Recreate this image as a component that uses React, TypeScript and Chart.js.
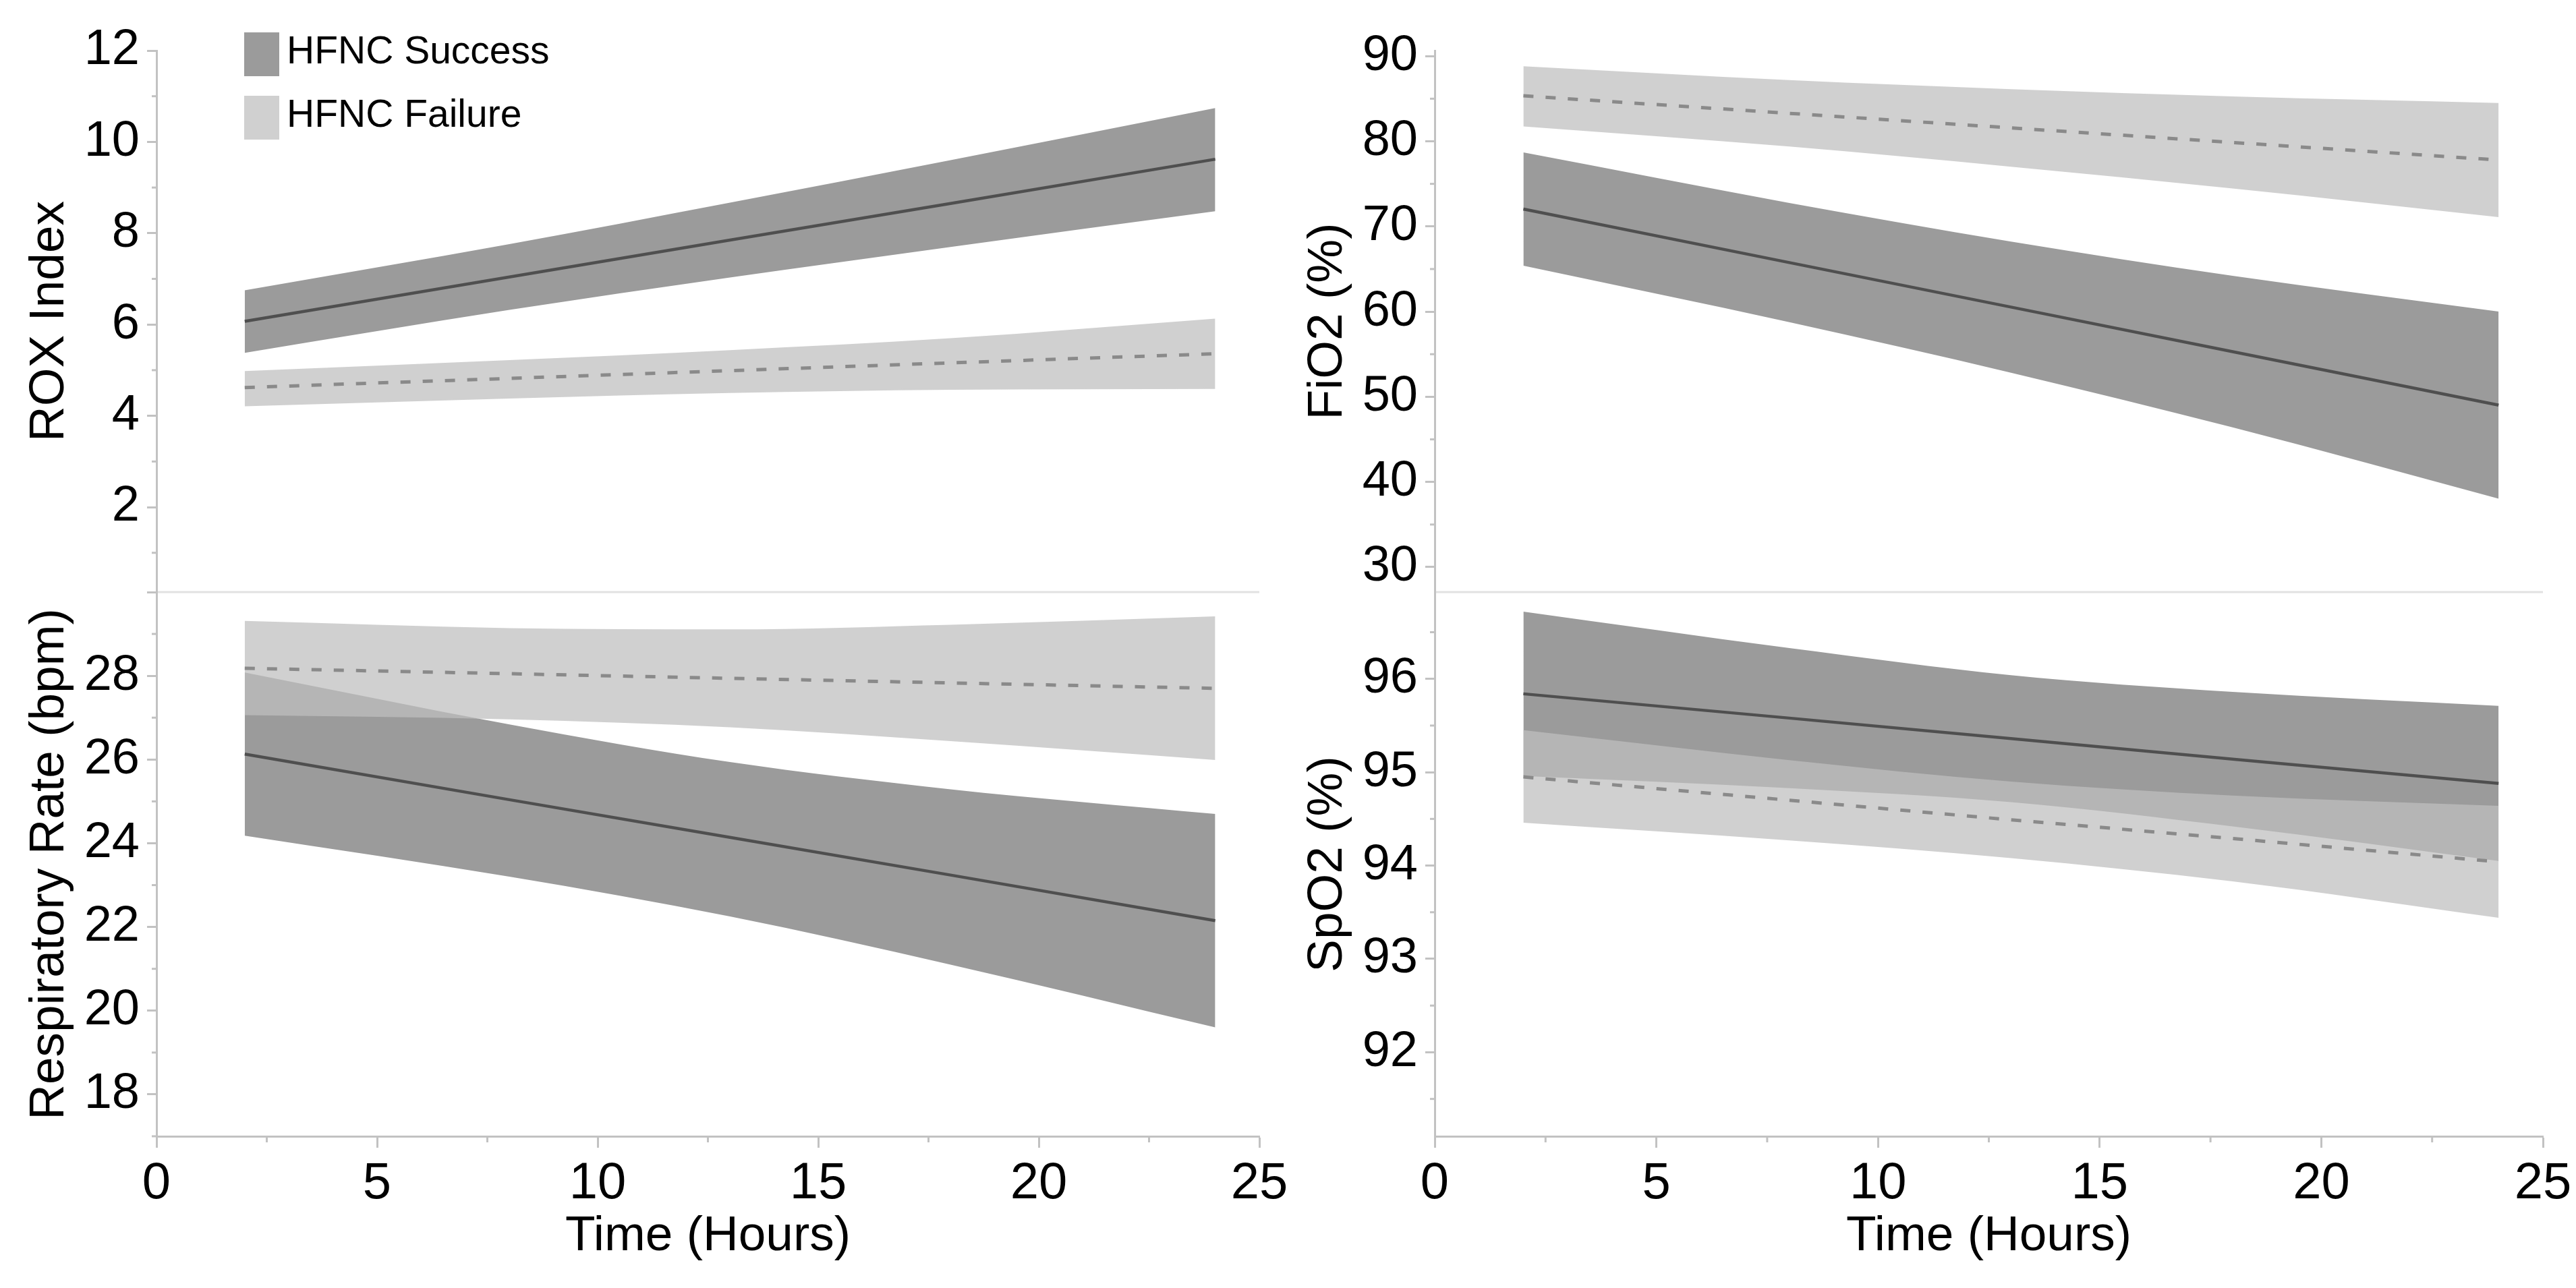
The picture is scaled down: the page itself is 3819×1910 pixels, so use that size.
import React, { useEffect, useRef } from 'react';
import { Chart, registerables } from 'chart.js';

Chart.register(...registerables);

// ---------------- data ----------------
const TIME = [2, 8, 13, 18, 24];
const X_TICKS = [0, 5, 10, 15, 20, 25];
const X_MINOR = [2.5, 7.5, 12.5, 17.5, 22.5];
const LEGEND_LABELS = ['HFNC Success', 'HFNC Failure'];

const ROX_TICKS = [2, 4, 6, 8, 10, 12];
const ROX_MINOR = [1, 3, 5, 7, 9, 11];
const ROX_SUCCESS_MEAN = [6.07, 7.04, 7.85, 8.65, 9.62];
const ROX_SUCCESS_UPPER = [6.75, 7.76, 8.67, 9.6, 10.74];
const ROX_SUCCESS_LOWER = [5.38, 6.32, 7.03, 7.7, 8.48];
const ROX_FAILURE_MEAN = [4.62, 4.82, 4.99, 5.16, 5.36];
const ROX_FAILURE_UPPER = [4.98, 5.22, 5.44, 5.7, 6.13];
const ROX_FAILURE_LOWER = [4.21, 4.38, 4.5, 4.57, 4.59];

const FIO2_TICKS = [30, 40, 50, 60, 70, 80, 90];
const FIO2_MINOR = [35, 45, 55, 65, 75, 85];
const FIO2_SUCCESS_MEAN = [72.04, 65.76, 60.53, 55.3, 49.02];
const FIO2_SUCCESS_UPPER = [78.69, 72.76, 68.23, 64.2, 60.0];
const FIO2_SUCCESS_LOWER = [65.39, 58.76, 52.83, 46.4, 38.04];
const FIO2_FAILURE_MEAN = [85.34, 83.28, 81.57, 79.86, 77.8];
const FIO2_FAILURE_UPPER = [88.8, 87.18, 86.12, 85.26, 84.5];
const FIO2_FAILURE_LOWER = [81.75, 79.38, 77.02, 74.46, 71.1];

const RR_TICKS = [18, 20, 22, 24, 26, 28, 30];
const RR_HIDDEN_LABELS = [30];
const RR_MINOR = [17, 19, 21, 23, 25, 27, 29];
const RR_SUCCESS_MEAN = [26.13, 25.04, 24.14, 23.24, 22.15];
const RR_SUCCESS_UPPER = [28.08, 26.84, 25.94, 25.29, 24.7];
const RR_SUCCESS_LOWER = [24.18, 23.2, 22.25, 21.1, 19.6];
const RR_FAILURE_MEAN = [28.18, 28.05, 27.94, 27.83, 27.7];
const RR_FAILURE_UPPER = [29.31, 29.14, 29.11, 29.22, 29.42];
const RR_FAILURE_LOWER = [27.06, 26.96, 26.77, 26.44, 25.99];

const SPO2_TICKS = [92, 93, 94, 95, 96];
const SPO2_MINOR = [91.5, 92.5, 93.5, 94.5, 95.5, 96.5];
const SPO2_SUCCESS_MEAN = [95.84, 95.58, 95.36, 95.14, 94.88];
const SPO2_SUCCESS_UPPER = [96.72, 96.33, 96.04, 95.86, 95.71];
const SPO2_SUCCESS_LOWER = [94.96, 94.83, 94.68, 94.42, 94.05];
const SPO2_FAILURE_MEAN = [94.95, 94.7, 94.49, 94.29, 94.04];
const SPO2_FAILURE_UPPER = [95.45, 95.13, 94.9, 94.75, 94.64];
const SPO2_FAILURE_LOWER = [94.46, 94.27, 94.08, 93.83, 93.44];

// ---------------- styles ----------------
const FONT = '"Liberation Sans", Arial, Helvetica, sans-serif';
const SUCCESS_FILL = 'rgb(155,155,155)';
const FAILURE_FILL = 'rgba(191,191,191,0.735)';
const SUCCESS_LINE = '#4f4f4f';
const FAILURE_LINE = '#8a8a8a';
const AXIS_COLOR = '#c2c2c2';
const SEP_COLOR = '#e2e2e2';

type PanelCfg = {
  title: string;
  min: number;
  max: number;
  ticks: number[];
  minor: number[];
  hidden?: number[];
  sUp: number[];
  sLo: number[];
  sMean: number[];
  fUp: number[];
  fLo: number[];
  fMean: number[];
  showX: boolean;
  legend: boolean;
  left: number;
  top: number;
  w: number;
  h: number;
  pad: { left: number; top: number; right: number; bottom: number };
};

const pts = (ys: number[]) => TIME.map((x, i) => ({ x, y: ys[i] }));

const panelDecor = {
  id: 'panelDecor',
  afterDraw(chart: any, _args: any, opts: any) {
    const { ctx, chartArea } = chart;
    const xs = chart.scales.x;
    const ys = chart.scales.y;
    ctx.save();
    ctx.strokeStyle = AXIS_COLOR;
    ctx.lineWidth = 3;
    (opts.minorY || []).forEach((v: number) => {
      const py = ys.getPixelForValue(v);
      ctx.beginPath();
      ctx.moveTo(chartArea.left - 7, py);
      ctx.lineTo(chartArea.left, py);
      ctx.stroke();
    });
    (opts.minorX || []).forEach((v: number) => {
      const px = xs.getPixelForValue(v);
      ctx.beginPath();
      ctx.moveTo(px, chartArea.bottom);
      ctx.lineTo(px, chartArea.bottom + 9);
      ctx.stroke();
    });
    if (opts.separator) {
      ctx.strokeStyle = SEP_COLOR;
      ctx.beginPath();
      ctx.moveTo(chartArea.left + 2, chartArea.top);
      ctx.lineTo(chartArea.right, chartArea.top);
      ctx.stroke();
    }
    if (opts.legend) {
      const ds = chart.data.datasets;
      const items = [
        { label: ds[4].label, color: ds[0].backgroundColor },
        { label: ds[5].label, color: ds[2].backgroundColor },
      ];
      ctx.font = `57px ${FONT}`;
      ctx.textBaseline = 'middle';
      ctx.textAlign = 'left';
      items.forEach((it, i) => {
        const bx = chartArea.left + 130;
        const by = chartArea.top - 27 + i * 94;
        ctx.fillStyle = it.color;
        ctx.fillRect(bx, by, 52, 65);
        ctx.fillStyle = '#000';
        ctx.fillText(it.label, bx + 63, by + 30);
      });
    }
    ctx.restore();
  },
};

function buildConfig(c: PanelCfg): any {
  const band = {
    borderWidth: 0,
    borderColor: 'rgba(0,0,0,0)',
    pointRadius: 0,
    showLine: true,
    tension: 0.35,
    cubicInterpolationMode: 'monotone',
  };
  return {
    type: 'line',
    data: {
      datasets: [
        { ...band, label: LEGEND_LABELS[0] + ' upper', data: pts(c.sUp), fill: 1, backgroundColor: SUCCESS_FILL, order: 5 },
        { ...band, label: LEGEND_LABELS[0] + ' lower', data: pts(c.sLo), fill: false, order: 6 },
        { ...band, label: LEGEND_LABELS[1] + ' upper', data: pts(c.fUp), fill: 3, backgroundColor: FAILURE_FILL, order: 3 },
        { ...band, label: LEGEND_LABELS[1] + ' lower', data: pts(c.fLo), fill: false, order: 4 },
        {
          label: LEGEND_LABELS[0],
          data: pts(c.sMean),
          borderColor: SUCCESS_LINE,
          borderWidth: 4.5,
          pointRadius: 0,
          fill: false,
          tension: 0,
          order: 1,
        },
        {
          label: LEGEND_LABELS[1],
          data: pts(c.fMean),
          borderColor: FAILURE_LINE,
          borderWidth: 5,
          borderDash: [15, 18],
          borderCapStyle: 'butt',
          pointRadius: 0,
          fill: false,
          tension: 0,
          order: 0,
        },
      ],
    },
    options: {
      animation: false,
      responsive: false,
      devicePixelRatio: 1,
      layout: { padding: c.pad },
      events: [],
      plugins: {
        legend: { display: false },
        tooltip: { enabled: false },
        panelDecor: {
          minorY: c.minor,
          minorX: c.showX ? X_MINOR : [],
          separator: c.showX,
          legend: c.legend,
        },
      },
      scales: {
        x: {
          type: 'linear',
          min: 0,
          max: 25,
          display: c.showX,
          afterBuildTicks: (s: any) => {
            s.ticks = X_TICKS.map((v) => ({ value: v }));
          },
          afterFit: (s: any) => {
            s.height = c.showX ? 225 : 0;
          },
          border: { display: true, color: AXIS_COLOR, width: 3 },
          grid: { drawOnChartArea: false, tickLength: 17, tickColor: AXIS_COLOR, tickWidth: 3 },
          ticks: {
            color: '#000',
            padding: 8,
            maxRotation: 0,
            font: { family: FONT, size: 76 },
            callback: (v: any) => String(v),
          },
          title: {
            display: true,
            text: 'Time (Hours)',
            color: '#000',
            font: { family: FONT, size: 73 },
            padding: { top: 0, bottom: 32 },
          },
        },
        y: {
          type: 'linear',
          min: c.min,
          max: c.max,
          afterBuildTicks: (s: any) => {
            s.ticks = c.ticks.map((v) => ({ value: v }));
          },
          afterFit: (s: any) => {
            s.width = 232;
          },
          border: { display: true, color: AXIS_COLOR, width: 3 },
          grid: { drawOnChartArea: false, tickLength: 14, tickColor: AXIS_COLOR, tickWidth: 3 },
          ticks: {
            color: '#000',
            padding: 11,
            font: { family: FONT, size: 74 },
            callback: (v: any) => ((c.hidden || []).includes(v) ? '' : String(v)),
          },
          title: {
            display: true,
            text: c.title,
            color: '#000',
            font: { family: FONT, size: 73 },
            padding: { top: 30, bottom: 0 },
          },
        },
      },
    },
    plugins: [panelDecor],
  };
}

const PANELS: PanelCfg[] = [
  {
    title: 'ROX Index', min: 0.14, max: 12, ticks: ROX_TICKS, minor: ROX_MINOR,
    sUp: ROX_SUCCESS_UPPER, sLo: ROX_SUCCESS_LOWER, sMean: ROX_SUCCESS_MEAN,
    fUp: ROX_FAILURE_UPPER, fLo: ROX_FAILURE_LOWER, fMean: ROX_FAILURE_MEAN,
    showX: false, legend: true,
    left: 0, top: 0, w: 1950, h: 938, pad: { left: 0, top: 75, right: 83, bottom: 60 },
  },
  {
    title: 'FiO2 (%)', min: 27.07, max: 90.65, ticks: FIO2_TICKS, minor: FIO2_MINOR,
    sUp: FIO2_SUCCESS_UPPER, sLo: FIO2_SUCCESS_LOWER, sMean: FIO2_SUCCESS_MEAN,
    fUp: FIO2_FAILURE_UPPER, fLo: FIO2_FAILURE_LOWER, fMean: FIO2_FAILURE_MEAN,
    showX: false, legend: false,
    left: 1895, top: 0, w: 1985, h: 938, pad: { left: 0, top: 75, right: 110, bottom: 60 },
  },
  {
    title: 'Respiratory Rate (bpm)', min: 17, max: 30, ticks: RR_TICKS, minor: RR_MINOR, hidden: RR_HIDDEN_LABELS,
    sUp: RR_SUCCESS_UPPER, sLo: RR_SUCCESS_LOWER, sMean: RR_SUCCESS_MEAN,
    fUp: RR_FAILURE_UPPER, fLo: RR_FAILURE_LOWER, fMean: RR_FAILURE_MEAN,
    showX: true, legend: false,
    left: 0, top: 800, w: 1950, h: 1110, pad: { left: 0, top: 78, right: 83, bottom: 0 },
  },
  {
    title: 'SpO2 (%)', min: 91.1, max: 96.93, ticks: SPO2_TICKS, minor: SPO2_MINOR,
    sUp: SPO2_SUCCESS_UPPER, sLo: SPO2_SUCCESS_LOWER, sMean: SPO2_SUCCESS_MEAN,
    fUp: SPO2_FAILURE_UPPER, fLo: SPO2_FAILURE_LOWER, fMean: SPO2_FAILURE_MEAN,
    showX: true, legend: false,
    left: 1895, top: 800, w: 1985, h: 1110, pad: { left: 0, top: 78, right: 110, bottom: 0 },
  },
];

function Panel({ cfg }: { cfg: PanelCfg }) {
  const ref = useRef<HTMLCanvasElement>(null);
  useEffect(() => {
    const chart = new Chart(ref.current as HTMLCanvasElement, buildConfig(cfg));
    return () => chart.destroy();
  }, [cfg]);
  return (
    <canvas
      ref={ref}
      width={cfg.w}
      height={cfg.h}
      style={{ position: 'absolute', left: cfg.left, top: cfg.top, width: cfg.w, height: cfg.h }}
    />
  );
}

export default function App() {
  return (
    <div
      style={{
        position: 'fixed',
        left: 0,
        top: 0,
        width: 3819,
        height: 1910,
        overflow: 'hidden',
        background: '#fff',
      }}
    >
      {PANELS.map((p, i) => (
        <Panel key={i} cfg={p} />
      ))}
    </div>
  );
}
